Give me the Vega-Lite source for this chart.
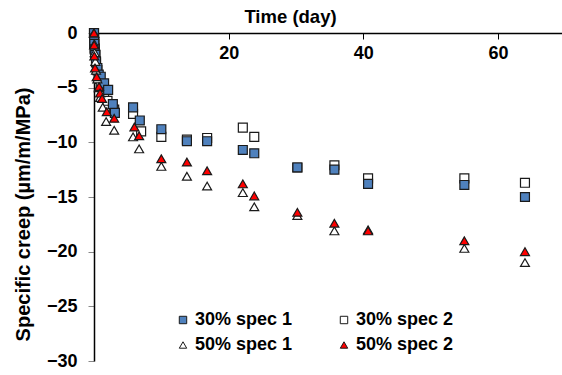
{
  "$schema": "https://vega.github.io/schema/vega-lite/v6.json",
  "autosize": {"type": "none"},
  "width": 468,
  "height": 328,
  "padding": {"left": 94, "top": 33, "right": 0, "bottom": 14},
  "config": {
    "view": {"stroke": null},
    "font": "Liberation Sans"
  },
  "data": {
    "values": [
      {"t": 0, "v": 0, "s": "30% spec 2"},
      {"t": 0.05, "v": -0.8, "s": "30% spec 2"},
      {"t": 0.1, "v": -1.4, "s": "30% spec 2"},
      {"t": 0.2, "v": -2.0, "s": "30% spec 2"},
      {"t": 0.3, "v": -2.7, "s": "30% spec 2"},
      {"t": 0.5, "v": -3.4, "s": "30% spec 2"},
      {"t": 0.8, "v": -4.2, "s": "30% spec 2"},
      {"t": 1, "v": -4.7, "s": "30% spec 2"},
      {"t": 1.5, "v": -5.6, "s": "30% spec 2"},
      {"t": 2, "v": -6.2, "s": "30% spec 2"},
      {"t": 3, "v": -7.0, "s": "30% spec 2"},
      {"t": 5.8, "v": -7.4, "s": "30% spec 2"},
      {"t": 7, "v": -9.0, "s": "30% spec 2"},
      {"t": 10, "v": -9.5, "s": "30% spec 2"},
      {"t": 13.8, "v": -9.75, "s": "30% spec 2"},
      {"t": 16.8, "v": -9.6, "s": "30% spec 2"},
      {"t": 22.1, "v": -8.65, "s": "30% spec 2"},
      {"t": 23.8, "v": -9.5, "s": "30% spec 2"},
      {"t": 30.2, "v": -12.3, "s": "30% spec 2"},
      {"t": 35.7, "v": -12.1, "s": "30% spec 2"},
      {"t": 40.7, "v": -13.3, "s": "30% spec 2"},
      {"t": 55, "v": -13.3, "s": "30% spec 2"},
      {"t": 64, "v": -13.7, "s": "30% spec 2"},

      {"t": 0, "v": 0, "s": "30% spec 1"},
      {"t": 0.02, "v": -0.5, "s": "30% spec 1"},
      {"t": 0.05, "v": -1.0, "s": "30% spec 1"},
      {"t": 0.1, "v": -1.5, "s": "30% spec 1"},
      {"t": 0.2, "v": -2.0, "s": "30% spec 1"},
      {"t": 0.3, "v": -2.6, "s": "30% spec 1"},
      {"t": 0.5, "v": -3.2, "s": "30% spec 1"},
      {"t": 0.7, "v": -3.8, "s": "30% spec 1"},
      {"t": 1, "v": -4.0, "s": "30% spec 1"},
      {"t": 1.5, "v": -4.6, "s": "30% spec 1"},
      {"t": 2.1, "v": -5.2, "s": "30% spec 1"},
      {"t": 2.8, "v": -6.5, "s": "30% spec 1"},
      {"t": 3.1, "v": -7.3, "s": "30% spec 1"},
      {"t": 5.8, "v": -6.8, "s": "30% spec 1"},
      {"t": 6.8, "v": -8.0, "s": "30% spec 1"},
      {"t": 10, "v": -8.8, "s": "30% spec 1"},
      {"t": 13.8, "v": -9.9, "s": "30% spec 1"},
      {"t": 16.8, "v": -9.9, "s": "30% spec 1"},
      {"t": 22.1, "v": -10.7, "s": "30% spec 1"},
      {"t": 23.8, "v": -11.0, "s": "30% spec 1"},
      {"t": 30.2, "v": -12.3, "s": "30% spec 1"},
      {"t": 35.7, "v": -12.5, "s": "30% spec 1"},
      {"t": 40.7, "v": -13.8, "s": "30% spec 1"},
      {"t": 55, "v": -13.9, "s": "30% spec 1"},
      {"t": 64, "v": -15.0, "s": "30% spec 1"},

      {"t": 0, "v": 0, "s": "50% spec 1"},
      {"t": 0.05, "v": -1.0, "s": "50% spec 1"},
      {"t": 0.1, "v": -1.8, "s": "50% spec 1"},
      {"t": 0.2, "v": -2.6, "s": "50% spec 1"},
      {"t": 0.3, "v": -3.4, "s": "50% spec 1"},
      {"t": 0.5, "v": -4.2, "s": "50% spec 1"},
      {"t": 0.7, "v": -5.0, "s": "50% spec 1"},
      {"t": 0.9, "v": -5.9, "s": "50% spec 1"},
      {"t": 1.3, "v": -6.8, "s": "50% spec 1"},
      {"t": 1.8, "v": -8.1, "s": "50% spec 1"},
      {"t": 3, "v": -8.9, "s": "50% spec 1"},
      {"t": 5.8, "v": -9.5, "s": "50% spec 1"},
      {"t": 6.7, "v": -10.6, "s": "50% spec 1"},
      {"t": 10, "v": -12.2, "s": "50% spec 1"},
      {"t": 13.8, "v": -13.1, "s": "50% spec 1"},
      {"t": 16.8, "v": -14.0, "s": "50% spec 1"},
      {"t": 22.1, "v": -14.6, "s": "50% spec 1"},
      {"t": 23.8, "v": -15.9, "s": "50% spec 1"},
      {"t": 30.2, "v": -16.7, "s": "50% spec 1"},
      {"t": 35.7, "v": -18.1, "s": "50% spec 1"},
      {"t": 40.7, "v": -18.0, "s": "50% spec 1"},
      {"t": 55, "v": -19.7, "s": "50% spec 1"},
      {"t": 64, "v": -21.0, "s": "50% spec 1"},

      {"t": 0, "v": 0, "s": "50% spec 2"},
      {"t": 0.02, "v": -1.1, "s": "50% spec 2"},
      {"t": 0.05, "v": -2.1, "s": "50% spec 2"},
      {"t": 0.15, "v": -3.2, "s": "50% spec 2"},
      {"t": 0.4, "v": -4.0, "s": "50% spec 2"},
      {"t": 0.75, "v": -4.9, "s": "50% spec 2"},
      {"t": 0.9, "v": -5.5, "s": "50% spec 2"},
      {"t": 1.2, "v": -6.0, "s": "50% spec 2"},
      {"t": 1.9, "v": -7.2, "s": "50% spec 2"},
      {"t": 3, "v": -7.8, "s": "50% spec 2"},
      {"t": 6, "v": -8.6, "s": "50% spec 2"},
      {"t": 6.7, "v": -9.4, "s": "50% spec 2"},
      {"t": 10, "v": -11.5, "s": "50% spec 2"},
      {"t": 13.8, "v": -11.8, "s": "50% spec 2"},
      {"t": 16.8, "v": -12.6, "s": "50% spec 2"},
      {"t": 22.1, "v": -13.8, "s": "50% spec 2"},
      {"t": 23.8, "v": -14.9, "s": "50% spec 2"},
      {"t": 30.2, "v": -16.4, "s": "50% spec 2"},
      {"t": 35.7, "v": -17.4, "s": "50% spec 2"},
      {"t": 40.7, "v": -18.1, "s": "50% spec 2"},
      {"t": 55, "v": -19.0, "s": "50% spec 2"},
      {"t": 64, "v": -20.0, "s": "50% spec 2"}
    ]
  },
  "mark": {"type": "point", "filled": true, "size": 80, "stroke": "#1a1a1a", "strokeWidth": 1.2, "opacity": 1},
  "encoding": {
    "x": {
      "field": "t",
      "type": "quantitative",
      "scale": {"domain": [0, 69.5], "nice": false, "zero": false},
      "axis": {
        "orient": "top",
        "title": "Time (day)",
        "titleFont": "Liberation Sans",
        "titleFontSize": 18.5,
        "titleFontWeight": "bold",
        "titleColor": "#000",
        "titleX": 196,
        "titleY": -17,
        "titleAlign": "center",
        "titleBaseline": "middle",
        "values": [0, 20, 40, 60],
        "labelExpr": "datum.value == 0 ? '' : datum.label",
        "grid": false,
        "domainColor": "#000",
        "domainWidth": 1.5,
        "tickColor": "#000",
        "tickSize": -6,
        "labelBaseline": "top",
        "labelPadding": -5,
        "labelFontSize": 18,
        "labelFontWeight": "bold",
        "labelColor": "#000",
        "labelFont": "Liberation Sans"
      }
    },
    "y": {
      "field": "v",
      "type": "quantitative",
      "scale": {"domain": [-30, 0], "nice": false},
      "axis": {
        "title": "Specific creep (µm/m/MPa)",
        "titleFont": "Liberation Sans",
        "titleFontSize": 20,
        "titleFontWeight": "bold",
        "titleColor": "#000",
        "titleX": -71,
        "titleY": 181,
        "titleAngle": -90,
        "titleAlign": "center",
        "titleBaseline": "middle",
        "values": [0, -5, -10, -15, -20, -25, -30],
        "grid": false,
        "domainColor": "#000",
        "domainWidth": 1.5,
        "tickColor": "#888",
        "tickSize": 6,
        "labelPadding": 11,
        "labelFontSize": 18,
        "labelFontWeight": "bold",
        "labelColor": "#000",
        "labelFont": "Liberation Sans"
      }
    },
    "fill": {
      "field": "s",
      "type": "nominal",
      "title": null,
      "scale": {
        "domain": ["30% spec 1", "30% spec 2", "50% spec 1", "50% spec 2"],
        "range": ["#4f81bd", "#ffffff", "#ffffff", "#ff0000"]
      },
      "legend": {
        "orient": "none",
        "legendX": 80,
        "legendY": 278,
        "direction": "horizontal",
        "columns": 2,
        "columnPadding": 42,
        "rowPadding": 7,
        "symbolSize": 55,
        "symbolStrokeColor": "#1a1a1a",
        "symbolStrokeWidth": 1,
        "labelFontSize": 18,
        "labelFontWeight": "bold",
        "labelColor": "#000",
        "labelFont": "Liberation Sans",
        "labelOffset": 3
      }
    },
    "shape": {
      "field": "s",
      "type": "nominal",
      "title": null,
      "scale": {
        "domain": ["30% spec 1", "30% spec 2", "50% spec 1", "50% spec 2"],
        "range": ["square", "square", "triangle-up", "triangle-up"]
      }
    }
  }
}
